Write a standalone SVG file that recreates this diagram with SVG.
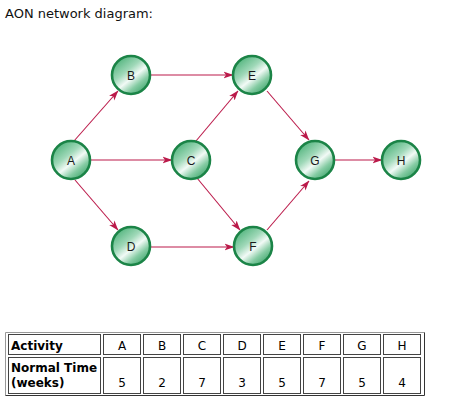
<svg xmlns="http://www.w3.org/2000/svg" width="468" height="405" viewBox="0 0 468 405">
<style>
.title{font-family:"DejaVu Sans",Verdana,sans-serif;font-size:12.5px;fill:#111}
.nl{font-family:"Liberation Sans",Arial,sans-serif;font-size:12px;fill:#1a1a1a;text-anchor:middle}
.node circle{fill:url(#g);stroke:#1b8447;stroke-width:2.6}
.edge{stroke:#bb1a4a;stroke-width:1.1;fill:none;marker-end:url(#ah)}
.tb{font-family:"DejaVu Sans",Verdana,sans-serif;font-size:12px;font-weight:bold;fill:#000}
.tc{font-family:"DejaVu Sans",Verdana,sans-serif;font-size:12px;fill:#000;text-anchor:middle}
.cell{fill:none;stroke:#444;stroke-width:1}
</style>
<defs>
<linearGradient id="g" x1="0.1" y1="0" x2="0.9" y2="1">
<stop offset="0" stop-color="#3eab6e"/>
<stop offset="0.38" stop-color="#9fd8b8"/>
<stop offset="0.56" stop-color="#f2faf6"/>
<stop offset="0.74" stop-color="#86cca4"/>
<stop offset="1" stop-color="#2a9a5c"/>
</linearGradient>
<marker id="ah" markerWidth="10" markerHeight="8" refX="9.5" refY="4" orient="auto" markerUnits="userSpaceOnUse">
<path d="M0,0.5 L10,4 L0,7.5 L2.5,4 Z" fill="#bb1a4a"/>
</marker>
</defs>
<rect width="468" height="405" fill="#fff"/>
<text class="title" x="5" y="18" textLength="148" lengthAdjust="spacingAndGlyphs">AON network diagram:</text>
<g id="connectors">
<line class="edge" x1="74" y1="141" x2="118" y2="91"/>
<line class="edge" x1="90" y1="160" x2="172" y2="160"/>
<line class="edge" x1="75" y1="180" x2="118" y2="230"/>
<line class="edge" x1="150" y1="75" x2="233" y2="75"/>
<line class="edge" x1="196" y1="141" x2="238" y2="91"/>
<line class="edge" x1="197" y1="178" x2="240" y2="230"/>
<line class="edge" x1="151" y1="247" x2="234" y2="247"/>
<line class="edge" x1="267" y1="91" x2="309" y2="140"/>
<line class="edge" x1="267" y1="230" x2="309" y2="181"/>
<line class="edge" x1="335" y1="160" x2="382" y2="160"/>
</g>
<g id="node-A" class="node"><circle cx="71" cy="160" r="19"/><text class="nl" x="71" y="164.5">A</text></g>
<g id="node-B" class="node"><circle cx="131" cy="75" r="19"/><text class="nl" x="131" y="79.5">B</text></g>
<g id="node-C" class="node"><circle cx="191" cy="160" r="19"/><text class="nl" x="191" y="164.5">C</text></g>
<g id="node-D" class="node"><circle cx="131" cy="246" r="19"/><text class="nl" x="131" y="250.5">D</text></g>
<g id="node-E" class="node"><circle cx="252" cy="75" r="19"/><text class="nl" x="252" y="79.5">E</text></g>
<g id="node-F" class="node"><circle cx="253" cy="246" r="19"/><text class="nl" x="253" y="250.5">F</text></g>
<g id="node-G" class="node"><circle cx="315" cy="160" r="19"/><text class="nl" x="315" y="164.5">G</text></g>
<g id="node-H" class="node"><circle cx="401" cy="160" r="19"/><text class="nl" x="401" y="164.5">H</text></g>
<g id="table">
<path d="M5.5,395.5 V332.5 H424.5" fill="none" stroke="#999"/>
<path d="M424.5,332.5 V395.5 H5.5" fill="none" stroke="#333"/>
<rect class="cell" x="8.5" y="334.5" width="92" height="20"/>
<rect class="cell" x="8.5" y="357.5" width="92" height="36"/>
<g>
<rect class="cell" x="103.5" y="334.5" width="37" height="20"/><rect class="cell" x="103.5" y="357.5" width="37" height="36"/>
<rect class="cell" x="143.5" y="334.5" width="37" height="20"/><rect class="cell" x="143.5" y="357.5" width="37" height="36"/>
<rect class="cell" x="183.5" y="334.5" width="37" height="20"/><rect class="cell" x="183.5" y="357.5" width="37" height="36"/>
<rect class="cell" x="223.5" y="334.5" width="37" height="20"/><rect class="cell" x="223.5" y="357.5" width="37" height="36"/>
<rect class="cell" x="263.5" y="334.5" width="37" height="20"/><rect class="cell" x="263.5" y="357.5" width="37" height="36"/>
<rect class="cell" x="303.5" y="334.5" width="37" height="20"/><rect class="cell" x="303.5" y="357.5" width="37" height="36"/>
<rect class="cell" x="343.5" y="334.5" width="37" height="20"/><rect class="cell" x="343.5" y="357.5" width="37" height="36"/>
<rect class="cell" x="383.5" y="334.5" width="37" height="20"/><rect class="cell" x="383.5" y="357.5" width="37" height="36"/>
</g>
<text class="tb" x="11" y="349.5">Activity</text>
<text class="tb" x="11" y="372">Normal Time</text>
<text class="tb" x="11" y="386.5">(weeks)</text>
<text class="tc" x="122" y="349.5">A</text><text class="tc" x="122" y="386.5">5</text>
<text class="tc" x="162" y="349.5">B</text><text class="tc" x="162" y="386.5">2</text>
<text class="tc" x="202" y="349.5">C</text><text class="tc" x="202" y="386.5">7</text>
<text class="tc" x="242" y="349.5">D</text><text class="tc" x="242" y="386.5">3</text>
<text class="tc" x="282" y="349.5">E</text><text class="tc" x="282" y="386.5">5</text>
<text class="tc" x="322" y="349.5">F</text><text class="tc" x="322" y="386.5">7</text>
<text class="tc" x="362" y="349.5">G</text><text class="tc" x="362" y="386.5">5</text>
<text class="tc" x="402" y="349.5">H</text><text class="tc" x="402" y="386.5">4</text>
</g>
</svg>
